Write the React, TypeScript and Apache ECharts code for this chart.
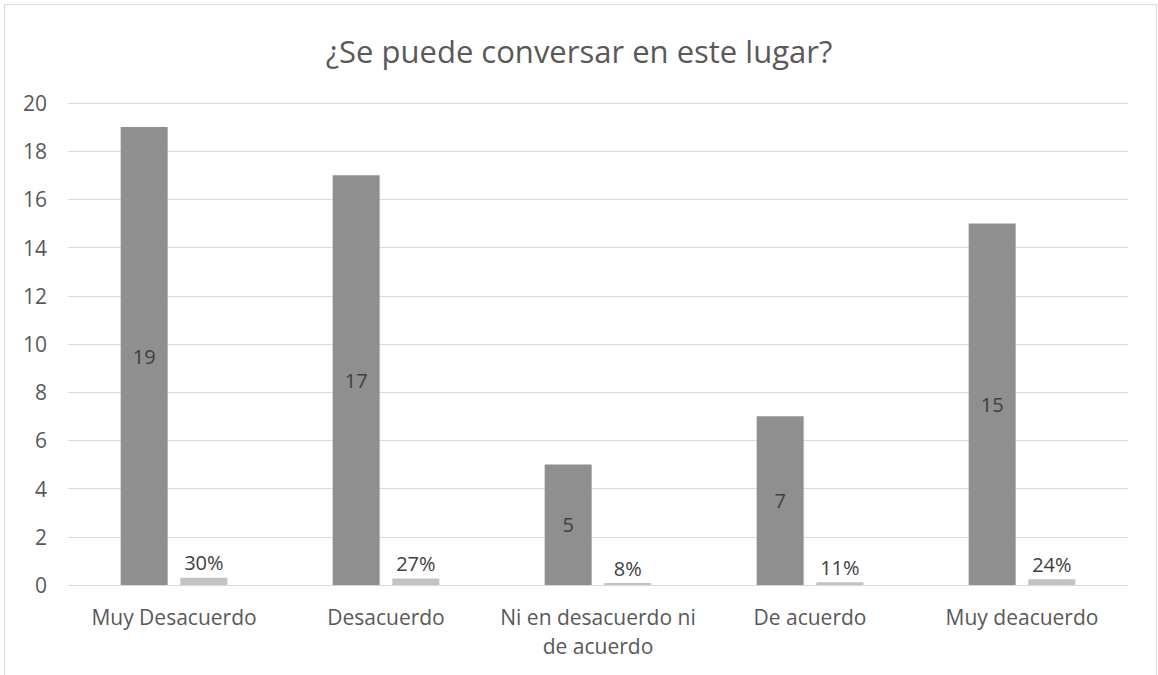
import React, { useEffect, useRef } from "react";
import * as echarts from "echarts";

const categories = [
  "Muy Desacuerdo",
  "Desacuerdo",
  "Ni en desacuerdo ni\nde acuerdo",
  "De acuerdo",
  "Muy deacuerdo",
];
const counts = [19, 17, 5, 7, 15];
const shares = [0.3, 0.27, 0.08, 0.11, 0.24];
const yTicks = { min: 0, max: 20, interval: 2 };
const title = "¿Se puede conversar en este lugar?";

const FONT = "Open Sans";

export default function App() {
  const ref = useRef<HTMLDivElement>(null);
  useEffect(() => {
    if (!ref.current) return;
    const chart = echarts.init(ref.current, undefined, { renderer: "svg" });
    chart.setOption({
      animation: false,
      backgroundColor: "#ffffff",
      textStyle: { fontFamily: FONT },
      title: {
        text: title,
        left: "center",
        top: 30,
        textStyle: { fontFamily: FONT, fontSize: 31, fontWeight: "normal", color: "#595959" },
      },
      graphic: [
        {
          type: "rect",
          shape: { x: 4.5, y: 4.5, width: 1152, height: 720 },
          style: { fill: "none", stroke: "#d9d9d9", lineWidth: 1 },
          silent: true,
        },
      ],
      grid: { left: 68, right: 30, top: 103, bottom: 90, containLabel: false },
      xAxis: {
        type: "category",
        data: categories,
        axisLine: { show: true, lineStyle: { color: "#d9d9d9", width: 1 } },
        axisTick: { show: false },
        axisLabel: {
          color: "#595959",
          fontSize: 21,
          fontFamily: FONT,
          margin: 17,
          lineHeight: 29,
          interval: 0,
        },
      },
      yAxis: {
        type: "value",
        min: yTicks.min,
        max: yTicks.max,
        interval: yTicks.interval,
        axisLine: { show: false },
        axisTick: { show: false },
        splitLine: { lineStyle: { color: "#d9d9d9", width: 1 } },
        axisLabel: { color: "#595959", fontSize: 21, fontFamily: FONT, margin: 21 },
      },
      series: [
        {
          type: "bar",
          data: counts,
          barWidth: 47,
          barGap: "27%",
          itemStyle: { color: "#8f8f8f" },
          label: {
            show: true,
            position: "inside",
            color: "#404040",
            fontSize: 20,
            fontFamily: FONT,
          },
        },
        {
          type: "bar",
          data: shares,
          barWidth: 47,
          itemStyle: { color: "#c3c3c3" },
          label: {
            show: true,
            position: "top",
            distance: 5,
            color: "#404040",
            fontSize: 20,
            fontFamily: FONT,
            formatter: (p: any) => Math.round(p.value * 100) + "%",
          },
        },
      ],
    });
    return () => chart.dispose();
  }, []);
  return (
    <div
      ref={ref}
      style={{ position: "absolute", left: 0, top: 0, width: 1158, height: 675 }}
    />
  );
}
